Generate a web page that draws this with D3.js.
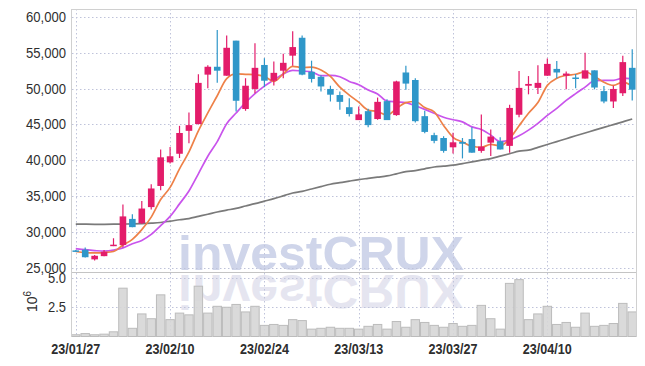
<!DOCTYPE html>
<html>
<head>
<meta charset="utf-8">
<script src="https://cdn.jsdelivr.net/npm/d3@7"></script>
<style>
  html, body { margin: 0; padding: 0; background: #fff; }
  svg { display: block; }
  .lbl { font-family: "Liberation Sans Narrow", "Liberation Sans", "DejaVu Sans Condensed", sans-serif; fill: #2e2e2e; }
</style>
</head>
<body>
<div id="chart"></div>
<script>
// Trading days 23/01/27 .. 23/04/21
const dates = [
  '01/27', '01/30', '01/31', '02/01', '02/02', '02/03', '02/06', '02/07', '02/08', '02/09',
  '02/10', '02/13', '02/14', '02/15', '02/16', '02/17', '02/20', '02/21', '02/22', '02/23',
  '02/24', '02/27', '02/28', '03/02', '03/03', '03/06', '03/07', '03/08', '03/09', '03/10',
  '03/13', '03/14', '03/15', '03/16', '03/17', '03/20', '03/21', '03/22', '03/23', '03/24',
  '03/27', '03/28', '03/29', '03/30', '03/31', '04/03', '04/04', '04/05', '04/06', '04/07',
  '04/10', '04/11', '04/12', '04/13', '04/14', '04/17', '04/18', '04/19', '04/20', '04/21'
];

const opens = [
  27400, 27500, 26150, 26600, 28000, 28150, 31800, 31200, 33450, 36400,
  39700, 40900, 44100, 45050, 51950, 53050, 51800, 56700, 47150, 49950,
  53300, 51100, 52500, 54600, 57100, 52350, 51650, 49950, 49100, 47400,
  45600, 46850, 45750, 48250, 46300, 52250, 51200, 46150, 43500, 43100,
  41800, 42550, 42950, 41300, 42450, 42650, 42000, 46350, 50400, 50100,
  51800, 52750, 51800, 51550, 51400, 52550, 49650, 48200, 49350, 52900
];
const highs = [
  27450, 27800, 26750, 27450, 29100, 33800, 32450, 34300, 36650, 41500,
  41850, 44800, 46650, 52000, 53250, 58200, 57400, 56700, 51450, 56350,
  54250, 53800, 54850, 58000, 57400, 53900, 51850, 50400, 49600, 48650,
  47500, 47200, 48750, 48500, 51100, 53200, 51450, 46900, 43850, 43350,
  43850, 43100, 44600, 46400, 44300, 43200, 47750, 52450, 51750, 53250,
  54200, 53850, 52400, 52050, 55000, 52550, 50350, 50400, 54600, 55500
];
const lows = [
  27300, 26400, 26000, 26600, 28000, 27850, 30650, 31100, 33100, 35800,
  39550, 40300, 42350, 45000, 50050, 50800, 51800, 46800, 46900, 49350,
  50200, 50450, 51450, 53200, 51850, 50850, 49600, 48200, 47050, 46100,
  45600, 44600, 45650, 45600, 46200, 49850, 45250, 43750, 42350, 41050,
  40950, 40250, 41050, 41050, 40600, 41500, 41050, 46000, 49200, 49250,
  51800, 51450, 49900, 50050, 51400, 49900, 47950, 47300, 48950, 48350
];
const closes = [
  27350, 26450, 26650, 27200, 28200, 32150, 30650, 33250, 36050, 40400,
  40550, 43800, 44900, 50800, 53050, 52500, 55700, 48300, 50400, 52900,
  51100, 52200, 53600, 55800, 51950, 51350, 50300, 49150, 48150, 46450,
  46400, 44900, 48150, 45600, 51000, 50700, 45450, 43950, 42700, 41300,
  42500, 42300, 41050, 41900, 43300, 41500, 47300, 50100, 50650, 50800,
  53450, 52250, 52100, 51450, 52550, 50150, 48200, 49950, 53700, 49850
];
// volume, millions of shares
const volumes = [
  0.15, 0.25, 0.15, 0.2, 0.4, 4.13, 0.7, 1.93, 1.52, 3.56,
  1.44, 2.0, 1.85, 4.3, 2.0, 2.58, 2.5, 2.74, 2.1, 2.58,
  0.95, 1.03, 0.95, 1.44, 1.36, 0.63, 0.7, 0.79, 0.7, 0.7,
  0.63, 0.87, 1.03, 0.63, 1.28, 0.79, 1.44, 1.2, 0.95, 0.79,
  1.11, 0.87, 0.95, 2.66, 1.52, 0.63, 4.54, 4.86, 1.44, 1.93,
  2.58, 1.03, 1.2, 0.79, 2.0, 0.87, 0.95, 1.11, 2.83, 2.1
];
const ma5 = [
  27250, 27100, 27050, 27100, 27250, 28150, 28950, 30300, 32050, 34500,
  36200, 38800, 41150, 44100, 46600, 49000, 51400, 52050, 52000, 51950,
  51700, 51000, 52050, 53100, 52950, 53000, 52600, 51700, 50200, 49100,
  48100, 47000, 46800, 46300, 47200, 48050, 48200, 47350, 46750, 44850,
  43200, 42550, 41950, 41800, 42200, 42000, 43000, 44800, 46550, 48050,
  50450, 51450, 51850, 52000, 52350, 51700, 50900, 50450, 50900, 50350
];
const ma10 = [
  27650, 27500, 27380, 27300, 27430, 27760, 28320, 28800, 29630, 30850,
  32150, 33900, 35700, 38100, 40550, 42600, 45100, 46600, 48050, 49300,
  50350, 51200, 52050, 52550, 52450, 52350, 51800, 51850, 51650, 51000,
  50550, 49800, 49250, 48250, 48150, 48050, 47600, 47100, 46550, 46000,
  45650, 45350, 44650, 44300, 43500, 42600, 42800, 43400, 44200, 45150,
  46250, 47250, 48350, 49300, 50200, 51100, 51150, 51150, 51450, 51350
];
const ma60 = [
  31070, 31060, 31050, 31050, 31060, 31080, 31110, 31150, 31210, 31300,
  31480, 31680, 31850, 32150, 32450, 32760, 33020, 33270, 33600, 33925,
  34280, 34630, 35020, 35420, 35650, 35980, 36310, 36640, 36860, 37080,
  37290, 37460, 37630, 37800, 38100, 38410, 38550, 38800, 39050, 39180,
  39300, 39530, 39760, 40000, 40230, 40560, 40900, 41260, 41400, 41800,
  42200, 42600, 43000, 43410, 43800, 44200, 44580, 44970, 45360, 45750
];

const priceTicks = [25000, 30000, 35000, 40000, 45000, 50000, 55000, 60000];
const volumeTicks = [2.5, 5.0];
const xTickDates = ['01/27', '02/10', '02/24', '03/13', '03/27', '04/10'];
const xTickLabels = ['23/01/27', '23/02/10', '23/02/24', '23/03/13', '23/03/27', '23/04/10'];

const width = 645, height = 366;
const plot = { left: 72, right: 636, top: 9, split: 272, bottom: 337 };
const upColor = '#e31c6a', downColor = '#2f97c9';

const candles = dates.map((d, i) => ({
  date: d, open: opens[i], high: highs[i], low: lows[i], close: closes[i],
  volume: volumes[i], ma5: ma5[i], ma10: ma10[i], ma60: ma60[i]
}));

const svg = d3.select('#chart').append('svg')
  .attr('width', width).attr('height', height);

const x = d3.scalePoint().domain(dates).range([plot.left, plot.right]).padding(0.4);
const step = x.step();
const yPrice = d3.scaleLinear().domain([25000, 60000]).range([267.6, 17]);
const yVol = d3.scaleLinear().domain([0, 5]).range([336.5, 278]);

const defs = svg.append('defs');
defs.append('clipPath').attr('id', 'clipPrice')
  .append('rect').attr('x', plot.left).attr('y', plot.top)
  .attr('width', plot.right - plot.left).attr('height', plot.split - plot.top);
defs.append('clipPath').attr('id', 'clipVol')
  .append('rect').attr('x', plot.left).attr('y', plot.split)
  .attr('width', plot.right - plot.left).attr('height', plot.bottom - plot.split);

// watermark + its reflection
const wm = svg.append('g')
  .style('font-family', 'Liberation Sans, Arial, sans-serif')
  .style('font-weight', 'bold').style('font-size', '49px');
wm.append('text')
  .attr('x', 178).attr('y', 270)
  .attr('textLength', 286).attr('lengthAdjust', 'spacingAndGlyphs')
  .attr('fill', '#cfd5ea')
  .text('investCRUX');
wm.append('text')
  .attr('transform', 'translate(0,545) scale(1,-1)')
  .attr('x', 178).attr('y', 270)
  .attr('textLength', 286).attr('lengthAdjust', 'spacingAndGlyphs')
  .attr('fill', '#e5e5f0')
  .text('investCRUX');

// grid
const grid = svg.append('g')
  .attr('stroke', '#bfc3da').attr('stroke-width', 1).attr('stroke-dasharray', '1.5,2.5');
grid.selectAll('.hp').data(priceTicks).join('line')
  .attr('x1', plot.left).attr('x2', plot.right)
  .attr('y1', d => Math.round(yPrice(d)) + 0.5).attr('y2', d => Math.round(yPrice(d)) + 0.5);
grid.selectAll('.hv').data(volumeTicks).join('line')
  .attr('x1', plot.left).attr('x2', plot.right)
  .attr('y1', d => Math.round(yVol(d)) + 0.5).attr('y2', d => Math.round(yVol(d)) + 0.5);
grid.selectAll('.vx').data(xTickDates).join('line')
  .attr('x1', d => Math.round(x(d)) + 0.5).attr('x2', d => Math.round(x(d)) + 0.5)
  .attr('y1', plot.top).attr('y2', plot.bottom);

// volume bars
svg.append('g').attr('clip-path', 'url(#clipVol)')
  .selectAll('rect').data(candles).join('rect')
  .attr('x', d => x(d.date) - step / 2 + 0.5)
  .attr('width', step - 1)
  .attr('y', d => yVol(d.volume))
  .attr('height', d => yVol(0) - yVol(d.volume))
  .attr('fill', '#d6d6d6').attr('fill-opacity', 0.9)
  .attr('stroke', '#bcbcbc').attr('stroke-width', 1);

// moving averages
const priceG = svg.append('g').attr('clip-path', 'url(#clipPrice)');
const maLines = [
  { key: 'ma60', color: '#7a7a7a', width: 1.7 },
  { key: 'ma10', color: '#c954ec', width: 1.7 },
  { key: 'ma5', color: '#ee8148', width: 1.7 }
];
maLines.forEach(m => {
  priceG.append('path')
    .datum(candles)
    .attr('fill', 'none')
    .attr('stroke', m.color)
    .attr('stroke-width', m.width)
    .attr('d', d3.line().x(d => x(d.date)).y(d => yPrice(d[m.key])).curve(d3.curveMonotoneX));
});

// candles
const bodyW = step * 0.7;
const cg = priceG.selectAll('.candle').data(candles).join('g')
  .attr('fill', d => d.close >= d.open ? upColor : downColor)
  .attr('stroke', d => d.close >= d.open ? upColor : downColor);
cg.append('line')
  .attr('x1', d => x(d.date)).attr('x2', d => x(d.date))
  .attr('y1', d => yPrice(d.high)).attr('y2', d => yPrice(d.low))
  .attr('stroke-width', 1.2);
cg.append('rect')
  .attr('x', d => x(d.date) - bodyW / 2)
  .attr('width', bodyW)
  .attr('y', d => yPrice(Math.max(d.open, d.close)))
  .attr('height', d => Math.max(1.5, Math.abs(yPrice(d.open) - yPrice(d.close))))
  .attr('stroke', 'none');

// frame
const frame = svg.append('g').attr('stroke', '#d0d0d0').attr('stroke-width', 1);
frame.append('line').attr('x1', plot.left).attr('x2', plot.right).attr('y1', plot.top + 0.5).attr('y2', plot.top + 0.5);
frame.append('line').attr('x1', plot.left - 0.5).attr('x2', plot.left - 0.5).attr('y1', plot.top).attr('y2', plot.bottom);
frame.append('line').attr('x1', plot.right + 0.5).attr('x2', plot.right + 0.5).attr('y1', plot.top).attr('y2', plot.bottom);
frame.append('line').attr('x1', plot.left).attr('x2', plot.right).attr('y1', plot.split + 0.5).attr('y2', plot.split + 0.5).attr('stroke', '#c4c4c4');

// axis labels
const fmt = d3.format(',');
svg.append('g').selectAll('text').data(priceTicks).join('text')
  .attr('class', 'lbl')
  .attr('x', 66).attr('y', d => yPrice(d) + 5)
  .attr('text-anchor', 'end')
  .attr('textLength', 40).attr('lengthAdjust', 'spacingAndGlyphs')
  .style('font-size', '15px')
  .text(d => fmt(d));
svg.append('g').selectAll('text').data(volumeTicks).join('text')
  .attr('class', 'lbl')
  .attr('x', 66).attr('y', d => yVol(d) + 5)
  .attr('text-anchor', 'end')
  .attr('textLength', 18).attr('lengthAdjust', 'spacingAndGlyphs')
  .style('font-size', '15px')
  .text(d => d.toFixed(1));
const unit = svg.append('text').attr('class', 'lbl')
  .attr('transform', 'translate(37,312) rotate(-90)')
  .style('font-size', '14px');
unit.append('tspan').text('10');
unit.append('tspan').attr('dy', -6).style('font-size', '10px').text('6');

svg.append('g').selectAll('text').data(xTickDates).join('text')
  .attr('class', 'lbl')
  .attr('x', d => x(d)).attr('y', 354)
  .attr('text-anchor', 'middle')
  .attr('textLength', 49).attr('lengthAdjust', 'spacingAndGlyphs')
  .style('font-size', '15px').style('font-weight', 'bold')
  .text((d, i) => xTickLabels[i]);
</script>
</body>
</html>
